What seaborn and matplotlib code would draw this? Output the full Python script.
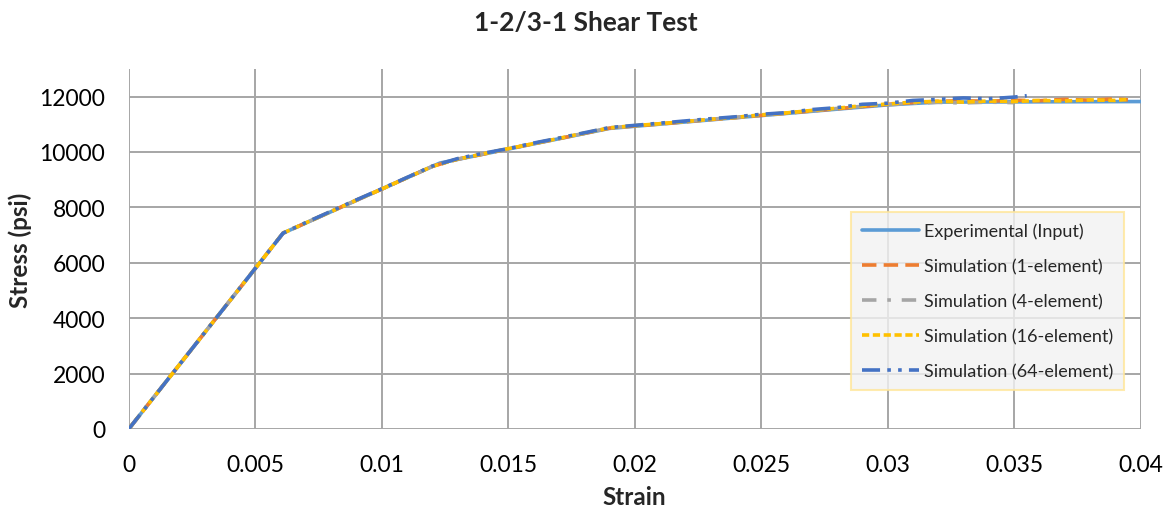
import numpy as np
import pandas as pd
import matplotlib
matplotlib.use("Agg")
import matplotlib.pyplot as plt
import seaborn as sns

# experimental input curve (piecewise)
exp_strain = [0, 0.0061, 0.0123, 0.019, 0.030, 0.032, 0.040]
exp_stress = [0, 7070, 9600, 10850, 11700, 11800, 11820]

# simulation curves
sim_strain = [0, 0.0061, 0.007, 0.008, 0.009, 0.010, 0.011, 0.012, 0.013, 0.014,
              0.015, 0.016, 0.017, 0.018, 0.019, 0.020, 0.021, 0.022, 0.023, 0.024,
              0.025, 0.026, 0.027, 0.028, 0.029, 0.030, 0.031, 0.032, 0.033, 0.034,
              0.035, 0.036, 0.037, 0.038, 0.039, 0.0395]

sim1_stress = [0, 7070, 7440, 7850, 8260, 8660, 9070, 9480, 9740, 9920,
               10110, 10300, 10480, 10670, 10860, 10940, 11010, 11090, 11170, 11240,
               11320, 11400, 11480, 11560, 11640, 11720, 11780, 11830, 11850, 11830,
               11870, 11850, 11900, 11870, 11920, 11880]
sim4_stress = [0, 7070, 7440, 7850, 8260, 8660, 9070, 9480, 9740, 9930,
               10110, 10300, 10490, 10670, 10870, 10940, 11020, 11100, 11180, 11250,
               11330, 11400, 11490, 11570, 11650, 11700, 11760, 11790, 11770, 11800,
               11780]
sim16_stress = [0, 7070, 7440, 7850, 8260, 8660, 9070, 9480, 9740, 9930,
                10120, 10300, 10490, 10680, 10870, 10950, 11020, 11100, 11180, 11250,
                11340, 11410, 11500, 11580, 11670, 11730, 11800, 11830, 11800, 11840,
                11820, 11860, 11840, 11880, 11860, 11900]
sim64_stress = [0, 7070, 7450, 7860, 8270, 8670, 9080, 9490, 9760, 9950,
                10120, 10320, 10500, 10690, 10880, 10960, 11040, 11120, 11200, 11270,
                11360, 11420, 11530, 11600, 11720, 11760, 11860, 11900, 11950, 11920,
                11980, 12030]
sim64_strain = sim_strain[:31] + [0.0355]

labels = ["Experimental (Input)", "Simulation (1-element)", "Simulation (4-element)",
          "Simulation (16-element)", "Simulation (64-element)"]
colors = ["#5B9BD5", "#ED7D31", "#A5A5A5", "#FFC000", "#4472C4"]
styles = ["-", (0, (4, 2)), (0, (4, 3, 1, 3)), (0, (2, 1)), (0, (5, 2, 1, 2, 1, 2))]

series = [
    (exp_strain, exp_stress),
    (sim_strain, sim1_stress),
    (sim_strain[:len(sim4_stress)], sim4_stress),
    (sim_strain, sim16_stress),
    (sim64_strain, sim64_stress),
]

sns.set_theme(style="white")
plt.rcParams['font.family'] = ['Lato', 'DejaVu Sans']

fig = plt.figure(figsize=(11.71, 5.10), dpi=100)
ax = fig.add_axes([0.110, 0.157, 0.864, 0.706])

for (x, y), lab, c, ls in zip(series, labels, colors, styles):
    sns.lineplot(x=x, y=y, ax=ax, label=lab, color=c, linestyle=ls,
                 linewidth=2.6, estimator=None, sort=False)

ax.set_xlim(0, 0.04)
ax.set_ylim(0, 13000)
ax.set_xticks(np.arange(0, 0.0401, 0.005))
ax.set_xticklabels(["0", "0.005", "0.01", "0.015", "0.02", "0.025", "0.03", "0.035", "0.04"])
ax.set_yticks(np.arange(0, 12001, 2000))
ax.grid(True, color="#A6A6A6", linewidth=1.4)
for s in ax.spines.values():
    s.set_visible(False)
ax.tick_params(axis="both", labelsize=16.5, length=0, colors="black")
ax.tick_params(axis="x", pad=18)
ax.tick_params(axis="y", pad=17)

ax.set_xlabel("Strain", fontsize=17.5, fontweight="bold", labelpad=7)
ax.set_ylabel("Stress (psi)", fontsize=17.5, fontweight="bold", labelpad=5)
fig.suptitle("1-2/3-1 Shear Test", fontsize=19, fontweight="bold", y=0.978)

leg = ax.legend(loc="upper left", bbox_to_anchor=(0.714, 0.603), borderaxespad=0,
                fontsize=13, handlelength=3.15, labelspacing=1.05, frameon=True,
                fancybox=False, borderpad=0.6, handletextpad=0.3)
leg.get_frame().set_facecolor("#F2F2F2")
leg.get_frame().set_edgecolor("#FFE699")
leg.get_frame().set_linewidth(1.5)

fig.savefig("out.png", dpi=100, facecolor="white")
